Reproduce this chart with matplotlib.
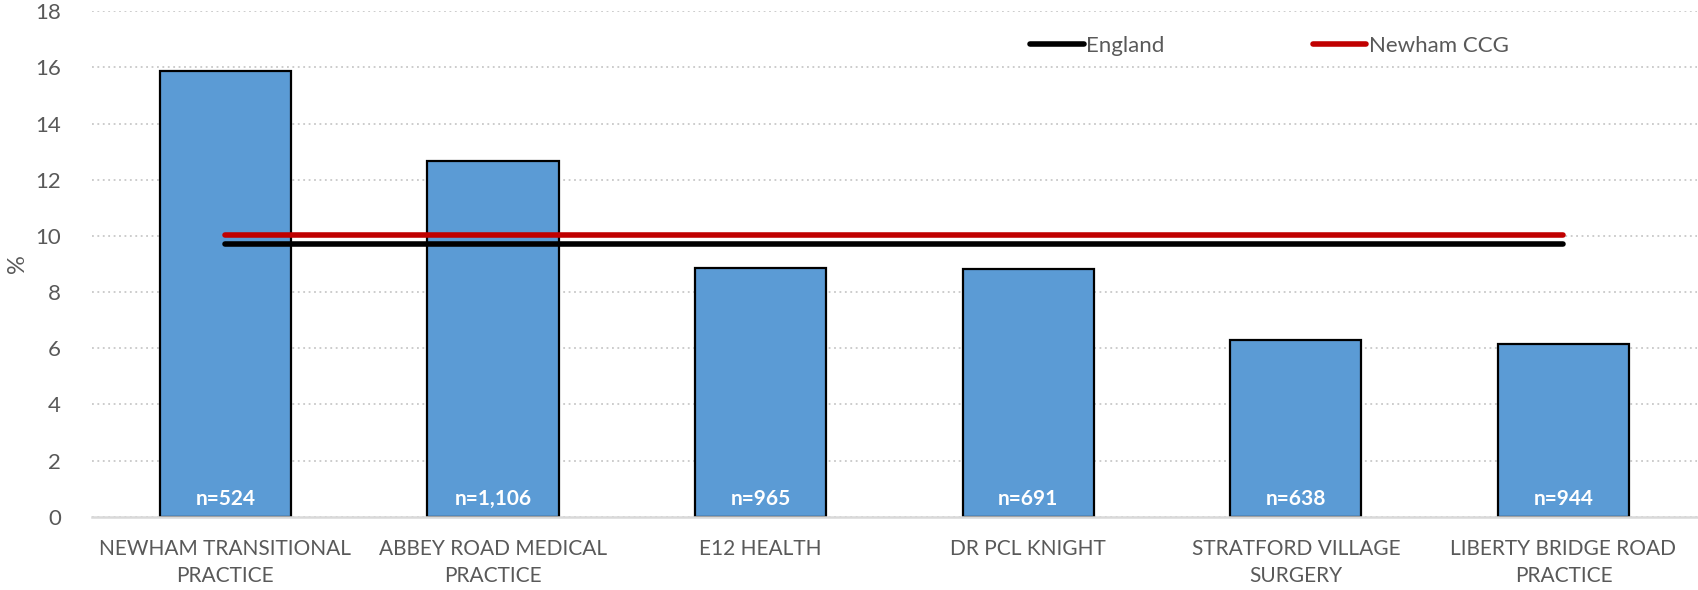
import matplotlib

matplotlib.use("Agg")

import matplotlib.pyplot as plt
import numpy as np

plt.rcParams["font.family"] = ["Lato", "DejaVu Sans"]

practices = [
    "NEWHAM TRANSITIONAL\nPRACTICE",
    "ABBEY ROAD MEDICAL\nPRACTICE",
    "E12 HEALTH",
    "DR PCL KNIGHT",
    "STRATFORD VILLAGE\nSURGERY",
    "LIBERTY BRIDGE ROAD\nPRACTICE",
]
values = [15.87, 12.67, 8.87, 8.83, 6.31, 6.17]
sample_sizes = ["n=524", "n=1,106", "n=965", "n=691", "n=638", "n=944"]
england = [9.70] * len(practices)
newham_ccg = [10.03] * len(practices)
y_ticks = [0, 2, 4, 6, 8, 10, 12, 14, 16, 18]

TEXT_GREY = "#595959"


def main() -> None:
    fig = plt.figure(figsize=(16.99, 5.90), dpi=100)
    ax = fig.add_axes([0.0539, 0.124, 0.9451, 0.857])

    x = np.arange(len(practices))
    ax.bar(x, values, width=0.49, color="#5B9BD5", edgecolor="black", linewidth=1.6, zorder=2)

    ax.plot(x, england, color="black", linewidth=4, solid_capstyle="round", label="England", zorder=3)
    ax.plot(x, newham_ccg, color="#C00000", linewidth=4, solid_capstyle="round", label="Newham CCG", zorder=3)

    for xi, label in zip(x, sample_sizes):
        ax.text(xi, 0.62, label, ha="center", va="center", color="white",
                fontsize=15, fontweight="bold", zorder=4)

    ax.set_xlim(-0.5, len(practices) - 0.5)
    ax.set_ylim(0, 18)
    ax.set_yticks(y_ticks)
    ax.set_xticks(x)
    ax.set_xticklabels(practices, linespacing=1.45)
    ax.tick_params(axis="both", length=0, labelsize=15, colors=TEXT_GREY)
    ax.tick_params(axis="x", pad=16)
    ax.tick_params(axis="y", labelsize=16, pad=22)
    ax.set_ylabel("%", fontsize=17, color=TEXT_GREY, labelpad=5)

    ax.grid(axis="y", linestyle=(0, (1, 2)), color="#C8C8C8", linewidth=1.3, zorder=0)
    ax.set_axisbelow(True)
    for side in ("top", "right", "left"):
        ax.spines[side].set_visible(False)
    ax.spines["bottom"].set_color("#D9D9D9")
    ax.spines["bottom"].set_linewidth(1.8)

    ax.legend(loc="center", bbox_to_anchor=(0.7335, 0.932), ncol=2, frameon=False,
              fontsize=16, handlelength=2.4, handletextpad=0.1, columnspacing=6.7,
              labelcolor=TEXT_GREY)

    fig.savefig("out.png", dpi=100)
    plt.close(fig)


if __name__ == "__main__":
    main()
